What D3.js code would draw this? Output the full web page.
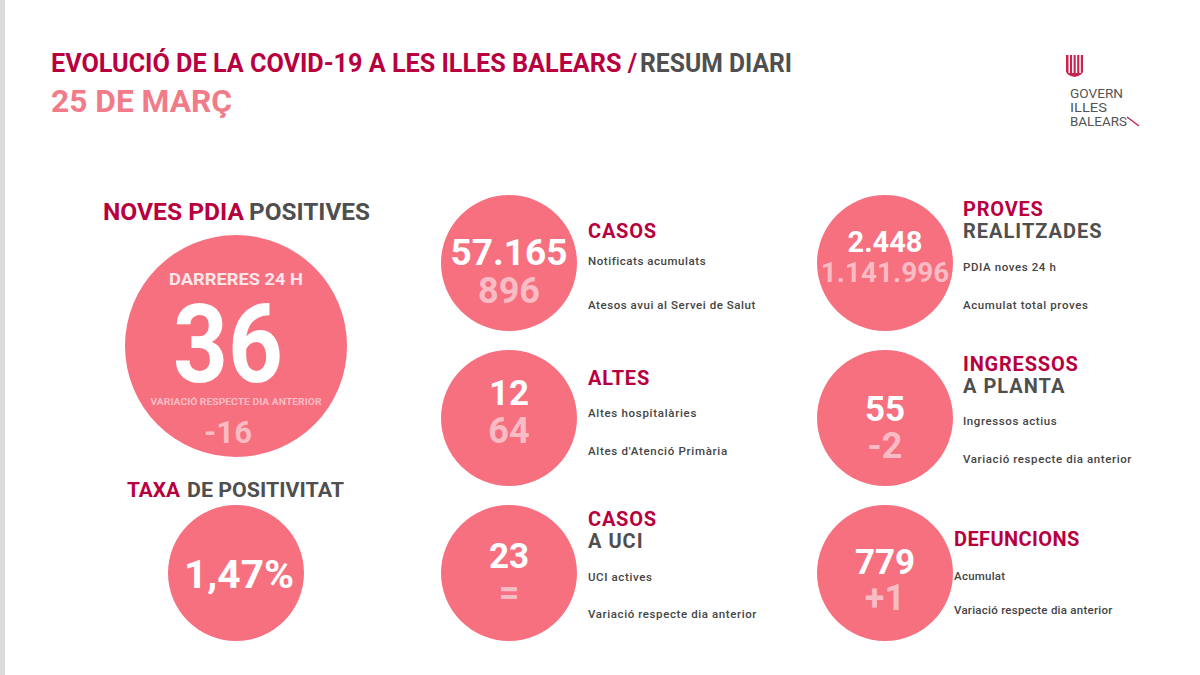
<!DOCTYPE html>
<meta charset="utf-8">
<script src="https://d3js.org/d3.v7.min.js"></script>
<style>
  body { margin: 0; background: #fff; }
  text { font-family: Roboto, sans-serif; }
</style>
<body>
<script>
// Values
var cardTop = ["57.165", "12", "23", "2.448", "55", "779"];
var cardBottom = ["896", "64", "=", "1.141.996", "-2", "+1"];
var cardTitle = ["CASOS", "ALTES", "CASOS", "PROVES", "INGRESSOS", "DEFUNCIONS"];
var cardSubtitle = ["", "", "A UCI", "REALITZADES", "A PLANTA", ""];
var cardNote1 = ["Notificats acumulats", "Altes hospitalàries", "UCI actives", "PDIA noves 24 h", "Ingressos actius", "Acumulat"];
var cardNote2 = ["Atesos avui al Servei de Salut", "Altes d'Atenció Primària", "Variació respecte dia anterior", "Acumulat total proves", "Variació respecte dia anterior", "Variació respecte dia anterior"];
var heroValue = "36";
var heroChange = "-16";
var positivity = "1,47%";

var width = 1200, height = 675;
var crimson = "#b8003f", grey = "#4f4f4f", salmon = "#f6707f", pale = "#f9bcc4";

var svg = d3.select("body").append("svg")
    .attr("width", width)
    .attr("height", height)
    .style("display", "block");

// Scan edge on the left
svg.append("rect").attr("width", 5).attr("height", height).attr("fill", "#dcdcdc");

function label(x, y, str, size, color, weight, anchor, target) {
  var t = svg.append("text")
      .attr("x", x).attr("y", y)
      .attr("font-size", size)
      .attr("font-weight", weight || 700)
      .attr("fill", color)
      .attr("text-anchor", anchor || "start")
      .text(str);
  // squeeze to the measured width of the original lettering
  if (target) t.attr("textLength", target).attr("lengthAdjust", "spacingAndGlyphs");
  return t;
}

// Header
label(51, 72, "EVOLUCIÓ DE LA COVID-19 A LES ILLES BALEARS /", 25, crimson, 700, "start", 586);
label(640, 72, "RESUM DIARI", 25, grey, 700, "start", 152);
label(51, 112, "25 DE MARÇ", 32, "#f27b89", 700, "start", 181);

// Logo
var logo = svg.append("g").attr("transform", "translate(1066,55)");
logo.append("path").attr("d", "M0,0H17V16Q17,20 8.5,22Q0,20 0,16Z").attr("fill", "#c8234f");
d3.range(4).forEach(function(i) {
  logo.append("rect").attr("x", 2.5 + i * 3.6).attr("y", 0).attr("width", 1.5).attr("height", 18).attr("fill", "#fff");
});
label(1070, 98, "GOVERN", 13.5, "#555", 400, "start", 53);
label(1070, 112, "ILLES", 13.5, "#555", 400, "start", 37);
label(1070, 126, "BALEARS", 13.5, "#555", 400, "start", 57);
svg.append("path").attr("d", "M1127,117L1139,126").attr("stroke", "#c8234f").attr("stroke-width", 1.5).attr("fill", "none");

// Left panel
label(103, 220, "NOVES PDIA", 24, crimson, 700, "start", 141);
label(249, 220, "POSITIVES", 24, grey, 700, "start", 121);

svg.append("circle").attr("cx", 236).attr("cy", 346).attr("r", 111).attr("fill", salmon);
label(236, 285, "DARRERES 24 H", 17, "#fde6e9", 700, "middle", 134);
label(228, 382, heroValue, 110, "#fff", 700, "middle", 110);
label(236, 405, "VARIACIÓ RESPECTE DIA ANTERIOR", 9.5, pale, 700, "middle", 171);
label(228, 443, heroChange, 32, pale, 700, "middle", 48);

label(127, 497, "TAXA", 21, crimson, 700, "start", 53);
label(187, 497, "DE POSITIVITAT", 21, grey, 700, "start", 157);

svg.append("circle").attr("cx", 236).attr("cy", 573).attr("r", 68).attr("fill", salmon);
label(239, 588, positivity, 39, "#fff", 700, "middle", 110);

// Six small cards, two columns of three
var col = d3.scalePoint().domain([0, 1]).range([509, 885]);
var row = d3.scalePoint().domain([0, 1, 2]).range([263, 573]);

// Offsets of the card text, relative to the circle centre
var textX = [79, 79, 79, 78, 78, 69];
var titleY = [-25, -33, -47, -47, -47, -27];
var note1Y = [2, -1, 8, 8, 7, 7];
var note2Y = [46, 37, 45, 46, 45, 41];
var topY = [2, -13, -5, -11, 3, 1];
var bottomY = [40, 25, 32, 19, 40, 37];
var noteSpacing = [0.55, 0.7, 0.6, 0.6, 0.6, 0.25];

var cards = svg.selectAll(".card")
    .data(d3.range(cardTop.length))
    .enter()
    .append("g")
    .attr("class", "card")
    .attr("transform", function(i) {
      return "translate(" + col(i < 3 ? 0 : 1) + "," + row(i % 3) + ")";
    });

cards.append("circle").attr("r", 68).attr("fill", salmon);

cards.append("text")
    .attr("text-anchor", "middle")
    .attr("y", function(i) { return topY[i]; })
    .attr("font-size", function(i) { return i == 0 ? 37 : i == 3 ? 29 : 35; })
    .attr("font-weight", 700)
    .attr("fill", "#fff")
    .text(function(i) { return cardTop[i]; });

cards.append("text")
    .attr("text-anchor", "middle")
    .attr("y", function(i) { return bottomY[i]; })
    .attr("font-size", function(i) { return i == 3 ? 28 : 36; })
    .attr("font-weight", 700)
    .attr("fill", pale)
    .text(function(i) { return cardBottom[i]; });

cards.append("text")
    .attr("x", function(i) { return textX[i]; })
    .attr("y", function(i) { return titleY[i]; })
    .attr("font-size", 20)
    .attr("font-weight", 700)
    .attr("letter-spacing", function(i) { return i == 5 ? 0.4 : 0.8; })
    .attr("fill", crimson)
    .text(function(i) { return cardTitle[i]; });

cards.append("text")
    .attr("x", function(i) { return textX[i]; })
    .attr("y", function(i) { return titleY[i] + 22; })
    .attr("font-size", 20)
    .attr("font-weight", 700)
    .attr("letter-spacing", 1)
    .attr("fill", grey)
    .text(function(i) { return cardSubtitle[i]; });

cards.append("text")
    .attr("x", function(i) { return textX[i]; })
    .attr("y", function(i) { return note1Y[i]; })
    .attr("font-size", 11.5)
    .attr("font-weight", 500)
    .attr("letter-spacing", function(i) { return noteSpacing[i]; })
    .attr("fill", "#444")
    .text(function(i) { return cardNote1[i]; });

cards.append("text")
    .attr("x", function(i) { return textX[i]; })
    .attr("y", function(i) { return note2Y[i]; })
    .attr("font-size", 11.5)
    .attr("font-weight", 500)
    .attr("letter-spacing", function(i) { return noteSpacing[i]; })
    .attr("fill", "#444")
    .text(function(i) { return cardNote2[i]; });
</script>
</body>
</html>
